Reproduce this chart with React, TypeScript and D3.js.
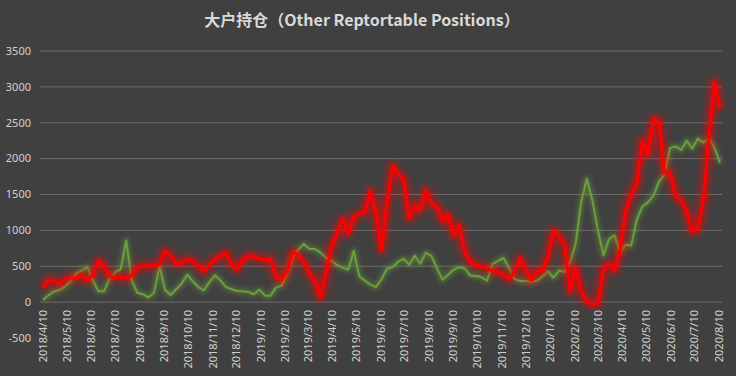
import React from "react";
import * as d3 from "d3";

const START_DATE = "2018-04-10";
const TITLE = "大户持仓（Other Reptortable Positions）";

const redValues = [
  200, 305, 290, 255, 320, 340, 330, 380, 300, 380,
  580, 500, 360, 345, 355, 335, 370, 490, 505, 505,
  505, 530, 710, 650, 530, 550, 595, 575, 500, 430,
  520, 595, 645, 685, 520, 460, 590, 650, 635, 605,
  585, 605, 350, 310, 430, 700, 660, 560, 400, 290,
  60, 380, 780, 960, 1160, 950, 1190, 1230, 1250, 1550,
  1250, 720, 1380, 1900, 1790, 1710, 1160, 1340, 1280, 1560,
  1380, 1330, 1130, 1220, 930, 1070, 700, 560, 515, 495,
  470, 435, 427, 380, 320, 420, 620, 450, 300, 430,
  430, 640, 1000, 920, 800, 150, 480, 150, 0, -30,
  -20, 480, 530, 440, 720, 1260, 1500, 1650, 2250, 2050,
  2550, 2530, 1800, 1800, 1480, 1420, 1270, 980, 1020, 1400,
  2300, 3070, 2700,
];

const greenValues = [
  30, 95, 150, 170, 220, 295, 400, 440, 490, 300,
  150, 150, 330, 415, 460, 860, 300, 130, 110, 65,
  130, 500, 170, 100, 180, 260, 385, 290, 210, 165,
  280, 375, 300, 210, 180, 155, 150, 140, 110, 175,
  90, 90, 205, 230, 400, 620, 730, 810, 740, 740,
  690, 620, 575, 515, 480, 450, 715, 360, 300, 245,
  210, 320, 465, 490, 560, 605, 520, 645, 535, 690,
  640, 470, 310, 380, 450, 490, 470, 370, 365, 350,
  300, 530, 575, 615, 470, 320, 295, 295, 280, 300,
  360, 430, 340, 440, 420, 560, 820, 1400, 1720, 1420,
  1000, 650, 880, 930, 700, 800, 790, 1150, 1330, 1390,
  1480, 1680, 1780, 2150, 2170, 2120, 2250, 2140, 2280, 2220,
  2285, 2150, 1940,
];

const xTickLabels = [
  "2018/4/10", "2018/5/10", "2018/6/10", "2018/7/10", "2018/8/10", "2018/9/10",
  "2018/10/10", "2018/11/10", "2018/12/10", "2019/1/10", "2019/2/10", "2019/3/10",
  "2019/4/10", "2019/5/10", "2019/6/10", "2019/7/10", "2019/8/10", "2019/9/10",
  "2019/10/10", "2019/11/10", "2019/12/10", "2020/1/10", "2020/2/10", "2020/3/10",
  "2020/4/10", "2020/5/10", "2020/6/10", "2020/7/10", "2020/8/10",
];

const yTicks = [-500, 0, 500, 1000, 1500, 2000, 2500, 3000, 3500];

const W = 736;
const H = 376;

const parseSlash = d3.timeParse("%Y/%m/%d");
const start = d3.timeParse("%Y-%m-%d")(START_DATE) as Date;
const dates = redValues.map((_, i) => d3.timeWeek.offset(start, i));

export default function App() {
  const x = d3
    .scaleTime()
    .domain([start, dates[dates.length - 1]])
    .range([43, 720]);
  const y = d3.scaleLinear().domain([-500, 3500]).range([338, 51]);

  const line = d3
    .line<number>()
    .x((_, i) => x(dates[i]))
    .y((d) => y(d));

  const font = "'Noto Sans', 'DejaVu Sans', sans-serif";

  return (
    <svg
      width={W}
      height={H}
      style={{ position: "fixed", left: 0, top: 0, display: "block" }}
    >
      <defs>
        <filter id="glowG" x="-10%" y="-20%" width="120%" height="140%">
          <feGaussianBlur stdDeviation="2.2" />
        </filter>
        <filter id="glowR" x="-10%" y="-20%" width="120%" height="140%">
          <feGaussianBlur stdDeviation="3" />
        </filter>
      </defs>
      <rect x={0} y={0} width={W} height={H} fill="#404040" />
      <text
        x={362}
        y={26}
        textAnchor="middle"
        fill="#d9d9d9"
        fontSize={16}
        fontWeight="bold"
        fontFamily="'Noto Sans CJK SC', sans-serif"
      >
        {TITLE}
      </text>
      {yTicks.map((t) => (
        <g key={t}>
          {t !== -500 && (
            <line
              x1={40}
              x2={722}
              y1={y(t)}
              y2={y(t)}
              stroke="#6c6c6c"
              strokeWidth={1}
            />
          )}
          <text
            x={31}
            y={y(t)}
            dy="0.35em"
            textAnchor="end"
            fill="#d0d0d0"
            fontSize={11}
            fontFamily={font}
          >
            {t}
          </text>
        </g>
      ))}
      {xTickLabels.map((lab) => {
        const d = parseSlash(lab) as Date;
        const xx = x(d);
        return (
          <text
            key={lab}
            transform={`translate(${xx},310) rotate(-90)`}
            dy="0.35em"
            textAnchor="end"
            fill="#d0d0d0"
            fontSize={11}
            fontFamily={font}
          >
            {lab}
          </text>
        );
      })}
      <path
        d={line(greenValues) || ""}
        fill="none"
        stroke="#6a9a3a"
        strokeOpacity={0.45}
        strokeWidth={6}
        filter="url(#glowG)"
        strokeLinejoin="round"
      />
      <path
        d={line(greenValues) || ""}
        fill="none"
        stroke="#69a03c"
        strokeWidth={2}
        strokeLinejoin="round"
      />
      <path
        d={line(redValues) || ""}
        fill="none"
        stroke="#ff0000"
        strokeOpacity={0.6}
        strokeWidth={9}
        filter="url(#glowR)"
        strokeLinejoin="round"
      />
      <path
        d={line(redValues) || ""}
        fill="none"
        stroke="#ff0000"
        strokeWidth={3}
        strokeLinejoin="round"
      />
    </svg>
  );
}
